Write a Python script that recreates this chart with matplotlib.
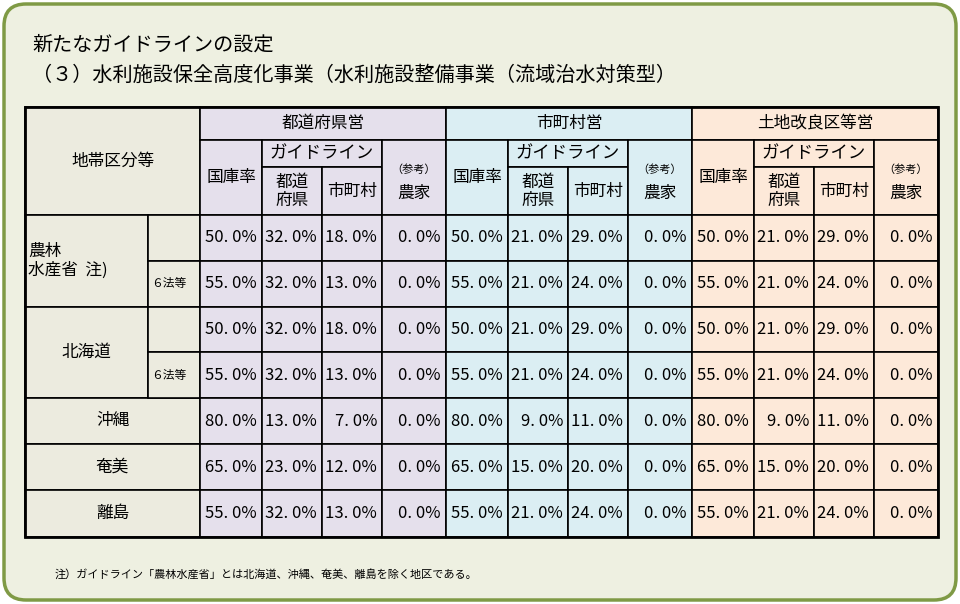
import matplotlib.pyplot as plt
from matplotlib.patches import FancyBboxPatch, Rectangle

plt.rcParams['font.family'] = 'Noto Sans CJK JP'

groups = ['都道府県営', '市町村営', '土地改良区等営']
group_colors = ['#e5e0ec', '#dbeef3', '#fde9d9']
row_labels = ['農林\n水産省  注)', '北海道', '沖縄', '奄美', '離島']
sub_labels = ['', '６法等', '', '６法等', '', '', '']

kokko = [[50.0, 55.0, 50.0, 55.0, 80.0, 65.0, 55.0],
         [50.0, 55.0, 50.0, 55.0, 80.0, 65.0, 55.0],
         [50.0, 55.0, 50.0, 55.0, 80.0, 65.0, 55.0]]
pref = [[32.0, 32.0, 32.0, 32.0, 13.0, 23.0, 32.0],
        [21.0, 21.0, 21.0, 21.0, 9.0, 15.0, 21.0],
        [21.0, 21.0, 21.0, 21.0, 9.0, 15.0, 21.0]]
city = [[18.0, 13.0, 18.0, 13.0, 7.0, 12.0, 13.0],
        [29.0, 24.0, 29.0, 24.0, 11.0, 20.0, 24.0],
        [29.0, 24.0, 29.0, 24.0, 11.0, 20.0, 24.0]]
farmer = [[0.0] * 7, [0.0] * 7, [0.0] * 7]

W, H = 960, 604
fig = plt.figure(figsize=(W / 100, H / 100), dpi=100)
ax = fig.add_axes([0, 0, 1, 1])
ax.set_xlim(0, W)
ax.set_ylim(H, 0)
ax.axis('off')

ax.add_patch(FancyBboxPatch((4, 4), W - 8, H - 8, boxstyle='round,pad=0,rounding_size=22',
                            fc='#eef0e1', ec='#7f9a45', lw=2.5))
ax.text(32, 45, '新たなガイドラインの設定', fontsize=14.5, va='center')
ax.text(32, 75, '（３）水利施設保全高度化事業（水利施設整備事業（流域治水対策型）', fontsize=14.5, va='center')
ax.text(55, 574, '注）ガイドライン「農林水産省」とは北海道、沖縄、奄美、離島を除く地区である。', fontsize=8, va='center')

left_bg = '#ecebdf'
col_w = [62, 60, 60, 64]
row_y = [215, 261, 307, 352, 398, 444, 490, 537]

def cell(x0, y0, x1, y1, fc, txt='', fs=12, ha='center', lw=1.2):
    ax.add_patch(Rectangle((x0, y0), x1 - x0, y1 - y0, fc=fc, ec='black', lw=lw))
    if txt:
        if ha == 'center':
            tx = (x0 + x1) / 2
        elif ha == 'left':
            tx = x0 + 3
        else:
            tx = x1 - 5
        ax.text(tx, (y0 + y1) / 2, txt, ha=ha, va='center', fontsize=fs, linespacing=1.1)

cell(25, 107, 200, 215, left_bg, '地帯区分等')
cell(25, 215, 148, 307, left_bg, row_labels[0], ha='left')
cell(25, 307, 148, 398, left_bg, row_labels[1])
for k, lab in enumerate(row_labels[2:]):
    cell(25, row_y[4 + k], 200, row_y[5 + k], left_bg, lab)
for r in range(4):
    cell(148, row_y[r], 200, row_y[r + 1], left_bg, sub_labels[r], fs=8.5, ha='left')

x = 200
for g in range(3):
    c = group_colors[g]
    xe = [x]
    for w in col_w:
        xe.append(xe[-1] + w)
    cell(xe[0], 107, xe[4], 140, c, groups[g])
    cell(xe[0], 140, xe[1], 215, c, '国庫率')
    cell(xe[1], 140, xe[3], 167, c, 'ガイドライン', fs=12.5)
    cell(xe[1], 167, xe[2], 215, c, '都道\n府県')
    cell(xe[2], 167, xe[3], 215, c, '市町村')
    cell(xe[3], 140, xe[4], 215, c)
    ax.text((xe[3] + xe[4]) / 2, 170, '（参考）', ha='center', va='center', fontsize=8)
    ax.text((xe[3] + xe[4]) / 2, 193, '農家', ha='center', va='center', fontsize=12)
    cols = [kokko[g], pref[g], city[g], farmer[g]]
    for j in range(4):
        for r in range(7):
            cell(xe[j], row_y[r], xe[j + 1], row_y[r + 1], c,
                 f'{cols[j][r]:.1f}'.replace('.', '. ') + '%', fs=12, ha='right')
    x = xe[4]

ax.add_patch(Rectangle((25, 107), x - 25, 537 - 107, fc='none', ec='black', lw=2))

fig.savefig('out.png', dpi=100)
